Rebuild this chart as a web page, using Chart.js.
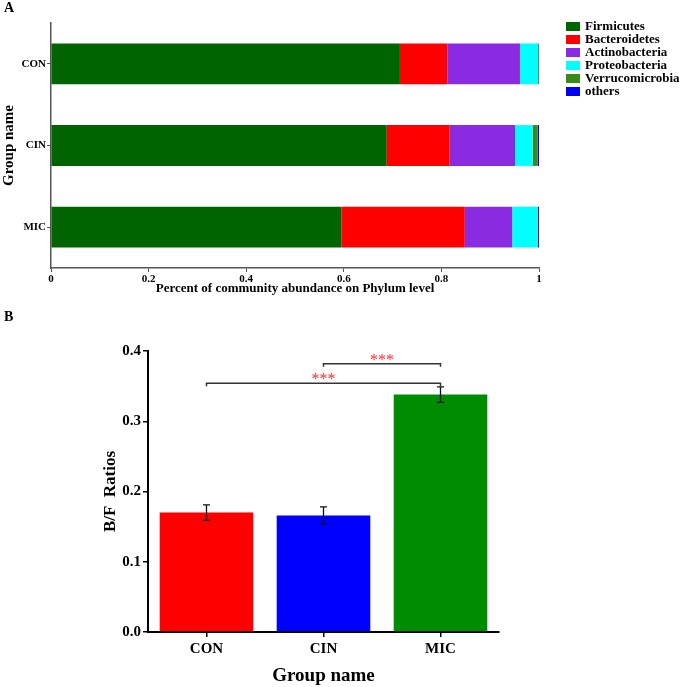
<!DOCTYPE html>
<html>
<head>
<meta charset="utf-8">
<script src="https://cdn.jsdelivr.net/npm/chart.js@4"></script>
<style>
  body { margin: 0; background: #fff; }
  #wrap { position: relative; width: 685px; height: 687px; }
  #phylumChart { position: absolute; left: 0; top: 0; }
  #ratioChart { position: absolute; left: 0; top: 300px; }
  .tag { position: absolute; font: bold 14px "Liberation Serif", serif; color: #000; }
</style>
</head>
<body>
<div id="wrap">
  <canvas id="phylumChart" width="685" height="300"></canvas>
  <canvas id="ratioChart" width="685" height="387"></canvas>
  <div class="tag" style="left:4px;top:0px;">A</div>
  <div class="tag" style="left:4px;top:309px;">B</div>
</div>
<script>
// groups and phylum abundance (fractions)
const groups = ["CON", "CIN", "MIC"];
const phyla = ["Firmicutes", "Bacteroidetes", "Actinobacteria", "Proteobacteria", "Verrucomicrobia", "others"];
const firmicutes = [0.715, 0.688, 0.595];
const bacteroidetes = [0.097, 0.129, 0.253];
const actinobacteria = [0.149, 0.134, 0.097];
const proteobacteria = [0.037, 0.036, 0.052];
const verrucomicrobia = [0.001, 0.010, 0.001];
const others = [0.001, 0.003, 0.002];
const phylumColors = ["#006400", "#ff0000", "#8a2be2", "#00ffff", "#3a8a1a", "#0000ff"];
const xTicks = [0, 0.2, 0.4, 0.6, 0.8, 1];

// B/F ratios
const ratios = [0.170, 0.166, 0.338];
const ratioErr = [0.011, 0.012, 0.011];
const ratioColors = ["#ff0000", "#0000ff", "#008c00"];
const yTicks = [0, 0.1, 0.2, 0.3, 0.4];
// significance brackets: [from index, to index, height]
const sigPairs = [[0, 2, 0.354], [1, 2, 0.382]];
const sigLabels = ["***", "***"];

const serif = "'Liberation Serif', 'Times New Roman', serif";
Chart.defaults.font.family = serif;
Chart.defaults.color = "#000";

//stacked phylum chart
const phylumValues = [firmicutes, bacteroidetes, actinobacteria, proteobacteria, verrucomicrobia, others];
const legendPlugin = {
  id: "sideLegend",
  afterDraw(chart) {
    const c = chart.ctx;
    c.save();
    c.font = "bold 13px " + serif;
    c.textBaseline = "middle";
    chart.data.datasets.forEach((ds, i) => {
      const y = 26 + i * 13;
      c.fillStyle = ds.backgroundColor;
      c.fillRect(566, y - 4, 14, 9);
      c.fillStyle = "#000";
      c.fillText(ds.label, 585, y + 1);
    });
    c.restore();
  },
};
new Chart(document.getElementById("phylumChart"), {
  type: "bar",
  data: {
    labels: groups,
    datasets: phyla.map((p, i) => ({
      label: p,
      data: phylumValues[i],
      backgroundColor: phylumColors[i],
      borderWidth: 0,
      barPercentage: 0.5,
      categoryPercentage: 1,
    })),
  },
  options: {
    indexAxis: "y",
    responsive: false,
    animation: false,
    layout: { padding: { left: 0, right: 146, top: 23, bottom: 0 } },
    plugins: { legend: { display: false }, tooltip: { enabled: false } },
    scales: {
      x: {
        stacked: true,
        min: 0,
        max: 1,
        afterBuildTicks: (s) => { s.ticks = xTicks.map((v) => ({ value: v })); },
        afterFit: (s) => { s.height = 32; },
        grid: { drawOnChartArea: false, tickLength: 4, color: "#555" },
        border: { color: "#555", width: 1.5 },
        ticks: { padding: 1, font: { size: 11, weight: "bold" }, callback: (v) => String(v) },
        title: {
          display: true,
          text: "Percent of community abundance on Phylum level",
          font: { size: 13, weight: "bold" },
          padding: { top: 0, bottom: 4 },
        },
      },
      y: {
        stacked: true,
        afterFit: (s) => { s.width = 51; },
        grid: { drawOnChartArea: false, offset: false, tickLength: 4, color: "#555" },
        border: { color: "#555", width: 1.5 },
        ticks: { padding: 1, font: { size: 11, weight: "bold" } },
        title: {
          display: true,
          text: "Group name",
          font: { size: 15, weight: "bold" },
          padding: { top: 0, bottom: 0 },
        },
      },
    },
  },
  plugins: [legendPlugin],
});

//B/F ratio bar chart with error bars
const extrasPlugin = {
  id: "errorAndSig",
  afterDatasetsDraw(chart) {
    const c = chart.ctx;
    const ys = chart.scales.y;
    const bars = chart.getDatasetMeta(0).data;
    c.save();
    c.strokeStyle = "#111";
    c.lineWidth = 1.3;
    bars.forEach((bar, i) => {
      const hi = ys.getPixelForValue(ratios[i] + ratioErr[i]);
      const lo = ys.getPixelForValue(ratios[i] - ratioErr[i]);
      c.beginPath();
      c.moveTo(bar.x, hi); c.lineTo(bar.x, lo);
      c.moveTo(bar.x - 3.5, hi); c.lineTo(bar.x + 3.5, hi);
      c.moveTo(bar.x - 3.5, lo); c.lineTo(bar.x + 3.5, lo);
      c.stroke();
    });
    c.strokeStyle = "#333";
    c.lineWidth = 1.5;
    c.font = "16px " + serif;
    c.textAlign = "center";
    c.textBaseline = "alphabetic";
    sigPairs.forEach((p, k) => {
      const x1 = bars[p[0]].x, x2 = bars[p[1]].x;
      const y = ys.getPixelForValue(p[2]);
      c.beginPath();
      c.moveTo(x1, y + 3); c.lineTo(x1, y); c.lineTo(x2, y); c.lineTo(x2, y + 3);
      c.stroke();
      c.fillStyle = "#ff2a2a";
      c.fillText(sigLabels[k], (x1 + x2) / 2, y + 1);
    });
    c.restore();
  },
};
new Chart(document.getElementById("ratioChart"), {
  type: "bar",
  data: {
    labels: groups,
    datasets: [{
      label: "B/F Ratios",
      data: ratios,
      backgroundColor: ratioColors,
      borderWidth: 0,
      barPercentage: 0.8,
      categoryPercentage: 1,
    }],
  },
  options: {
    responsive: false,
    animation: false,
    layout: { padding: { left: 96, right: 186, top: 51, bottom: 1 } },
    plugins: { legend: { display: false }, tooltip: { enabled: false } },
    scales: {
      x: {
        afterFit: (s) => { s.height = 54; },
        grid: { drawOnChartArea: false, offset: false, tickLength: 5, color: "#000", lineWidth: 1.5 },
        border: { color: "#000", width: 2 },
        ticks: { padding: 3, font: { size: 15, weight: "bold" } },
        title: {
          display: true,
          text: "Group name",
          font: { size: 19, weight: "bold", lineHeight: 1 },
          padding: { top: 0, bottom: 0 },
        },
      },
      y: {
        min: 0,
        max: 0.4,
        afterBuildTicks: (s) => { s.ticks = yTicks.map((v) => ({ value: v })); },
        afterFit: (s) => { s.width = 52; },
        grid: { drawOnChartArea: false, tickLength: 5, color: "#000", lineWidth: 1.5 },
        border: { color: "#000", width: 2 },
        ticks: { padding: 2, font: { size: 15, weight: "bold" }, callback: (v) => v.toFixed(1) },
        title: {
          display: true,
          text: "B/F  Ratios",
          font: { size: 17, weight: "bold" },
          padding: { top: 4, bottom: 0 },
        },
      },
    },
  },
  plugins: [extrasPlugin],
});
</script>
</body>
</html>
